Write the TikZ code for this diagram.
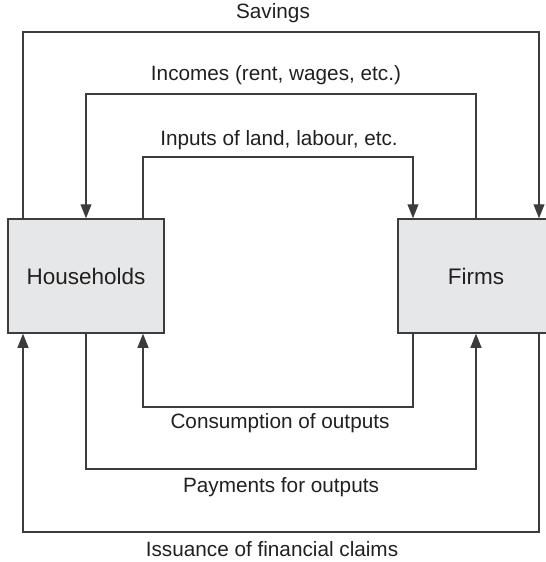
\documentclass[tikz,border=0pt]{standalone}
\usepackage{fontspec}
\setmainfont{Liberation Sans}
\usetikzlibrary{arrows.meta}
\definecolor{boxcolor}{RGB}{230,231,232}
\definecolor{linecolor}{RGB}{60,60,60}
\definecolor{textcolor}{RGB}{35,31,32}

\tikzset{
  sector/.style={draw=linecolor, line width=0.8pt, fill=boxcolor,
    minimum width=3.12cm, minimum height=2.28cm, inner sep=0pt,
    text=textcolor, font=\fontsize{12.8}{15}\selectfont},
  flow/.style={draw=linecolor, line width=0.75pt,
    -{Triangle[length=8pt,width=6.2pt]}},
  label/.style={text=textcolor, inner sep=0pt,
    font=\fontsize{11.8}{14}\selectfont}
}

\begin{document}
\begin{tikzpicture}[x=0.02cm, y=-0.02cm]
\useasboundingbox (0,0) rectangle (546,562);

% the two sectors
\node[sector] (hh) at (86,276) {Households};
\node[sector] (fi) at (476,276) {Firms};

% flows over the top
\draw[flow] (hh.north -| 23,0) |- (539,32) -- (fi.north -| 539,0);
\draw[flow] (fi.north) |- (86,94) -- (hh.north);
\draw[flow] (hh.north -| 143,0) |- (413,157) -- (fi.north -| 413,0);

% flows underneath
\draw[flow] (fi.south -| 413,0) |- (143,407) -- (hh.south -| 143,0);
\draw[flow] (hh.south) |- (476,469) -- (fi.south);
\draw[flow] (fi.south -| 539,0) |- (23,532) -- (hh.south -| 23,0);

% labels
\node[label] (savings) at (273,13) {Savings};
\node[label] (incomes) at (276,75) {Incomes (rent, wages, etc.)};
\node[label] (inputs) at (279,140) {Inputs of land, labour, etc.};
\node[label] (consumption) at (280,423) {Consumption of outputs};
\node[label] (payments) at (281,487) {Payments for outputs};
\node[label] (issuance) at (272,549) {Issuance of financial claims};
\end{tikzpicture}
\end{document}
